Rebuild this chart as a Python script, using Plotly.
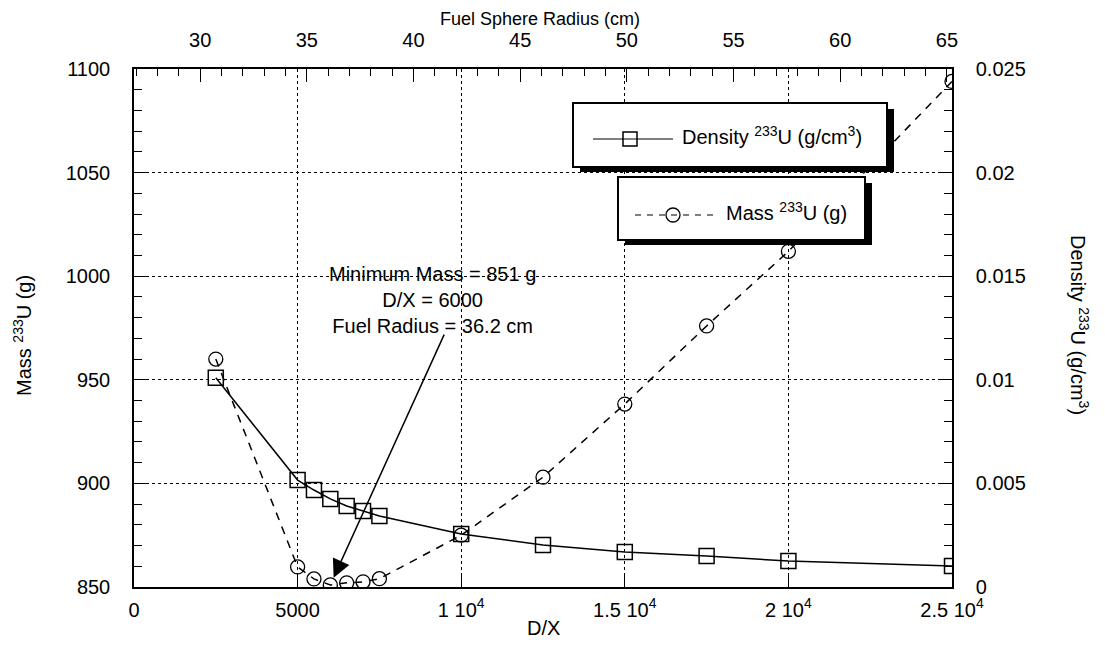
import plotly.graph_objects as go

# D/X ratio and the two computed series
dx = [2500, 5000, 5500, 6000, 6500, 7000, 7500, 10000, 12500, 15000, 17500, 20000, 25000]
mass_g = [960, 859.7, 853.9, 851, 852, 852.5, 854, 875, 903, 938.3, 976, 1012, 1094]
density = [0.0101, 0.00516, 0.00468, 0.00425, 0.00391, 0.00367, 0.00343,
           0.00256, 0.00203, 0.00169, 0.0015, 0.00125, 0.00101]

x_ticks = [0, 5000, 10000, 15000, 20000, 25000]
x_ticktext = ["0", "5000", "1 10<sup>4</sup>", "1.5 10<sup>4</sup>", "2 10<sup>4</sup>", "2.5 10<sup>4</sup>"]
y2_ticks = [0, 0.005, 0.01, 0.015, 0.02, 0.025]
y2_ticktext = ["0", "0.005", "0.01", "0.015", "0.02", "0.025"]

FONT = "Liberation Sans, Arial, sans-serif"
FS = 20
BLACK = "black"

# plot area in page pixels; the page body adds an 8px offset
OFF = 8
L, R, T, B = 134, 952, 69, 587
W, H = 1105, 646


def px(x):
    return (x - L) / (R - L)


def py(y):
    return (B - y) / (B - T)


def label(text, x, y, **kw):
    opts = dict(xref="paper", yref="paper", x=px(x), y=py(y), showarrow=False,
                xanchor="center", yanchor="middle", font=dict(size=FS))
    opts.update(kw)
    fig.add_annotation(text=text, **opts)


fig = go.Figure()

fig.add_trace(go.Scatter(
    x=dx, y=density, yaxis="y2", mode="lines+markers",
    line=dict(color=BLACK, width=1.5),
    marker=dict(symbol="square-open", size=15, color=BLACK, line=dict(width=1.5)),
    showlegend=False,
))
fig.add_trace(go.Scatter(
    x=dx, y=mass_g, mode="lines+markers",
    line=dict(color=BLACK, width=1.5, dash="8px,7px"),
    marker=dict(symbol="circle-open", size=14, color=BLACK, line=dict(width=1.3)),
    showlegend=False,
))
# empty trace so the top (radius) axis gets drawn
fig.add_trace(go.Scatter(x=[None], y=[None], xaxis="x2", showlegend=False, hoverinfo="skip"))

axis_common = dict(
    showline=True, linecolor=BLACK, linewidth=1.5, ticks="inside", tickcolor=BLACK,
    zeroline=False, tickfont=dict(family=FONT, size=FS, color=BLACK),
)

fig.update_layout(
    width=W, height=H,
    margin=dict(l=L - OFF, r=W + OFF - R, t=T - OFF, b=H + OFF - B),
    plot_bgcolor="white", paper_bgcolor="white",
    font=dict(family=FONT, size=FS, color=BLACK),
    showlegend=False,
    xaxis=dict(
        range=[0, 25000], tickvals=x_ticks, ticktext=x_ticktext, ticklen=13,
        showgrid=True, gridcolor=BLACK, griddash="dot", gridwidth=1,
        ticklabelstandoff=4, **axis_common,
    ),
    xaxis2=dict(
        overlaying="x", side="top", anchor="y", range=[26.9, 65.24],
        tick0=30, dtick=5, ticklen=13, showgrid=False,
        minor=dict(dtick=1, ticks="inside", ticklen=7, tickcolor=BLACK),
        ticklabelstandoff=12, **axis_common,
    ),
    yaxis=dict(
        range=[850, 1100], dtick=50, ticklen=13,
        showgrid=True, gridcolor=BLACK, griddash="dot", gridwidth=1,
        minor=dict(dtick=10, ticks="inside", ticklen=8, tickcolor=BLACK),
        ticklabelstandoff=18, **axis_common,
    ),
    yaxis2=dict(
        overlaying="y", side="right", anchor="x", range=[0, 0.025],
        tickvals=y2_ticks, ticktext=y2_ticktext, ticklen=13, showgrid=False,
        minor=dict(dtick=0.001, ticks="inside", ticklen=8, tickcolor=BLACK),
        ticklabelstandoff=18, **axis_common,
    ),
)

# axis titles
label("D/X", 543, 628)
label("Fuel Sphere Radius (cm)", 540, 19, font=dict(size=18))
label("Mass <sup>233</sup>U (g)", 22, 336, textangle=-90)
label("Density <sup>233</sup>U (g/cm<sup>3</sup>)", 1080, 325, textangle=90)

# minimum-mass callout
label("Minimum Mass = 851 g<br>D/X = 6000<br>Fuel Radius = 36.2 cm", 432, 300)
fig.add_annotation(x=6000, y=851, ax=9500, ay=972.5, axref="x", ayref="y", text="",
                   showarrow=True, arrowhead=2, arrowsize=2.4, arrowwidth=1.5,
                   arrowcolor=BLACK, standoff=8)

# two boxed legends with drop shadows
shapes = []
for (x0, y0, x1, y1) in [(573, 103, 887, 167), (618, 177, 865, 240)]:
    shapes.append(dict(type="rect", xref="paper", yref="paper",
                       x0=px(x0 + 7), x1=px(x1 + 7), y0=py(y1 + 5), y1=py(y0 + 6),
                       fillcolor=BLACK, line=dict(width=0), layer="above"))
    shapes.append(dict(type="rect", xref="paper", yref="paper",
                       x0=px(x0), x1=px(x1), y0=py(y1), y1=py(y0),
                       fillcolor="white", line=dict(color=BLACK, width=2), layer="above"))
shapes.append(dict(type="line", xref="paper", yref="paper", x0=px(593), x1=px(673),
                   y0=py(139), y1=py(139), line=dict(color=BLACK, width=1.2), layer="above"))
shapes.append(dict(type="rect", xref="paper", yref="paper", x0=px(623), x1=px(637),
                   y0=py(146), y1=py(132), line=dict(color=BLACK, width=1.5), layer="above"))
shapes.append(dict(type="line", xref="paper", yref="paper", x0=px(635), x1=px(717),
                   y0=py(215), y1=py(215), line=dict(color=BLACK, width=1.2, dash="6px,6px"),
                   layer="above"))
shapes.append(dict(type="circle", xref="paper", yref="paper", x0=px(666), x1=px(680),
                   y0=py(222), y1=py(208), line=dict(color=BLACK, width=1.3), layer="above"))
fig.update_layout(shapes=shapes)

label("Density <sup>233</sup>U (g/cm<sup>3</sup>)", 680, 136, xanchor="left")
label("Mass <sup>233</sup>U (g)", 724, 211, xanchor="left")

fig.write_html("out.html")
